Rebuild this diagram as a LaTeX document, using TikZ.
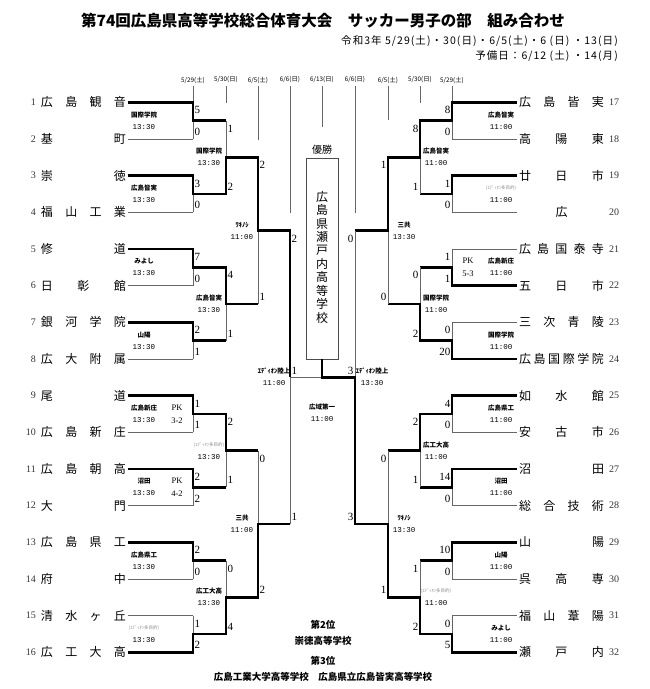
\documentclass[tikz,border=0pt]{standalone}
\usepackage{fontspec}
\setmainfont{Liberation Serif}
\setmonofont{Liberation Mono}
\newfontfamily\jp{Noto Sans CJK JP}
\newfontfamily\jpwide{Noto Sans CJK JP}[LetterSpace=10]
\usetikzlibrary{positioning}

\tikzset{
  thinln/.style={draw=black!60, line width=0.9pt},
  winln/.style={draw=black, line width=2.8pt, line join=miter},
  tname/.style={font=\jp\fontsize{12}{12}\selectfont, inner sep=0pt},
  tnum/.style={font=\fontsize{10}{10}\selectfont, text=black!80, inner sep=0pt},
  score/.style={font=\fontsize{11}{11}\selectfont, inner sep=1.5pt},
  venue/.style={font=\jp\bfseries\fontsize{6.5}{7}\selectfont, inner sep=0pt},
  gvenue/.style={font=\jp\fontsize{4.5}{5}\selectfont, text=black!45, inner sep=0pt},
  vtime/.style={font=\ttfamily\fontsize{7.5}{8}\selectfont, inner sep=0pt},
  pk/.style={font=\fontsize{8.5}{9}\selectfont, inner sep=0pt},
  datehd/.style={font=\jp\fontsize{6.3}{7}\selectfont, inner sep=0pt},
  subhd/.style={font=\jpwide\fontsize{10.5}{11}\selectfont, inner sep=0pt, anchor=east},
  bottomtxt/.style={font=\jp\bfseries\fontsize{9.5}{10}\selectfont, inner sep=0pt},
}

% one match: name, bracket x, next x, top y, bottom y, winner (1/2), scores, side (-1 left, 1 right)
\newcommand{\bout}[9]{%
  \pgfmathsetmacro{\bymid}{(#4+#5)/2}%
  \pgfmathsetmacro{\bxin}{#2+8*#9}%
  \ifnum#6=1 \def\byw{#4}\else\def\byw{#5}\fi
  \ifnum#9<0 \def\bside{west}\else\def\bside{east}\fi
  \draw[thinln] (#2,#4) -- (#2,#5);
  \draw[winln] (\bxin,\byw) -- (#2,\byw) -- (#2,\bymid) -- (#3,\bymid);
  \node[score,anchor=\bside] (#1a) at (#2,#4+8) {#7};
  \node[score,anchor=\bside] (#1b) at (#2,#5-7) {#8};
}

% venue and kick-off under a match
\newcommand{\venue}[6][venue]{%
  \node[#1] (#2v) at (#3,#4-6) {#5};
  \node[vtime] (#2t) at (#3,#4+6) {#6};
}

\begin{document}
\begin{tikzpicture}[x=1pt,y=-1pt]
\useasboundingbox (0,0) rectangle (650,689);

% -----------------------------
% Title
% -----------------------------
\node[font=\jp\bfseries\fontsize{15.5}{16}\selectfont] (title) at (323,21)
  {第74回広島県高等学校総合体育大会　サッカー男子の部　組み合わせ};
\node[subhd] (days) at (618,41) {令和3年 5/29(土)・30(日)・6/5(土)・6 (日) ・13(日)};
\node[subhd] (spare) at (618,56) {予備日：6/12 (土) ・14(月)};

% -----------------------------
% Match days
% -----------------------------
\foreach \x/\d/\e [count=\k] in {193/{5/29(土)}/102.3, 226/{5/30(日)}/103, 258/{6/5(土)}/140,
    290/{6/6(日)}/213, 322/{6/13(日)}/127, 355/{6/6(日)}/213, 388/{6/5(土)}/120,
    420/{5/30(日)}/103, 452/{5/29(土)}/102.3} {
  \node[datehd] (day\k) at (\x,80) {\d};
  \draw[thinln] (day\k.south) ++(0,3) -- (\x,\e);
}

% -----------------------------
% Teams
% -----------------------------
\foreach \n/\nm/\st in {1/{広 島 観 音}/winln, 2/{基 町}/thinln, 3/{崇 徳}/winln,
    4/{福 山 工 業}/thinln, 5/{修 道}/winln, 6/{日 彰 館}/thinln, 7/{銀 河 学 院}/winln,
    8/{広 大 附 属}/thinln, 9/{尾 道}/winln, 10/{広 島 新 庄}/thinln, 11/{広 島 朝 高}/winln,
    12/{大 門}/thinln, 13/{広 島 県 工}/winln, 14/{府 中}/thinln, 15/{清 水 ヶ 丘}/thinln,
    16/{広 工 大 高}/winln} {
  \pgfmathsetmacro{\ty}{102.3+36.67*(\n-1)}
  \node[tnum, anchor=east] (numL\n) at (36,\ty) {\n};
  \node[tname] (teamL\n) at (83.5,\ty) {\makebox[85pt][s]{\nm}};
  \draw[\st] ([xshift=2pt]teamL\n.east) -- (193,\ty);
}
\foreach \n/\nm/\st in {17/{広 島 皆 実}/winln, 18/{高 陽 東}/thinln, 19/{廿 日 市}/winln,
    20/{\hfill 広\hfill}/thinln, 21/{広 島 国 泰 寺}/thinln, 22/{五 日 市}/winln,
    23/{三 次 青 陵}/thinln, 24/{広 島 国 際 学 院}/winln, 25/{如 水 館}/winln,
    26/{安 古 市}/thinln, 27/{沼 田}/winln, 28/{総 合 技 術}/thinln, 29/{山 陽}/winln,
    30/{呉 高 専}/thinln, 31/{福 山 葦 陽}/thinln, 32/{瀬 戸 内}/winln} {
  \pgfmathsetmacro{\ty}{102.3+36.67*(\n-17)}
  \node[tnum, anchor=west] (numR\n) at (609,\ty) {\n};
  \node[tname] (teamR\n) at (561.5,\ty) {\makebox[85pt][s]{\nm}};
  \draw[\st] ([xshift=-2pt]teamR\n.west) -- (452,\ty);
}

% -----------------------------
% Left half
% -----------------------------
\bout{L1}{193}{226}{102.3}{138.97}{1}{5}{0}{-1}
\bout{L2}{193}{226}{175.64}{212.31}{1}{3}{0}{-1}
\bout{L3}{193}{226}{248.98}{285.65}{1}{7}{0}{-1}
\bout{L4}{193}{226}{322.32}{358.99}{1}{2}{1}{-1}
\bout{L5}{193}{226}{395.66}{432.33}{1}{1}{1}{-1}
\bout{L6}{193}{226}{469.0}{505.67}{1}{2}{2}{-1}
\bout{L7}{193}{226}{542.34}{579.01}{1}{2}{0}{-1}
\bout{L8}{193}{226}{615.68}{652.35}{2}{1}{2}{-1}
\bout{L9}{226}{258}{120.64}{193.98}{2}{1}{2}{-1}
\bout{L10}{226}{258}{267.32}{340.66}{1}{4}{1}{-1}
\bout{L11}{226}{258}{414.0}{487.34}{1}{2}{1}{-1}
\bout{L12}{226}{258}{560.68}{634.02}{2}{0}{4}{-1}
\bout{L13}{258}{290}{157.31}{303.99}{1}{2}{1}{-1}
\bout{L14}{258}{290}{450.67}{597.35}{2}{0}{2}{-1}
\bout{L15}{290}{290}{230.65}{524.01}{1}{2}{1}{-1}

\venue{L1}{144}{120.64}{国際学院}{13:30}
\venue{L2}{144}{193.98}{広島皆実}{13:30}
\venue{L3}{144}{267.32}{みよし}{13:30}
\venue{L4}{144}{340.66}{山陽}{13:30}
\venue{L5}{144}{414.0}{広島新庄}{13:30}
\venue{L6}{144}{487.34}{沼田}{13:30}
\venue{L7}{144}{560.68}{広島県工}{13:30}
\venue[gvenue]{L8}{144}{634.02}{(ｴﾃﾞｨｵﾝ多目的)}{13:30}
\venue{L9}{209}{157.31}{国際学院}{13:30}
\venue{L10}{209}{303.99}{広島皆実}{13:30}
\venue[gvenue]{L11}{209}{450.67}{(ｴﾃﾞｨｵﾝ多目的)}{13:30}
\venue{L12}{209}{597.35}{広工大高}{13:30}
\venue{L13}{242}{230.65}{ﾜｷﾉｼ}{11:00}
\venue{L14}{242}{524.01}{三共}{11:00}
\venue{L15}{274}{377.33}{ｴﾃﾞｨｵﾝ陸上}{11:00}

% penalty shoot-outs
\node[pk] (L5pk) at (177,407.5) {PK};
\node[pk] (L5pks) at (177,420.5) {3-2};
\node[pk] (L6pk) at (177,480.8) {PK};
\node[pk] (L6pks) at (177,493.8) {4-2};

% -----------------------------
% Right half
% -----------------------------
\bout{R1}{452}{420}{102.3}{138.97}{1}{8}{0}{1}
\bout{R2}{452}{420}{175.64}{212.31}{1}{1}{0}{1}
\bout{R3}{452}{420}{248.98}{285.65}{2}{1}{1}{1}
\bout{R4}{452}{420}{322.32}{358.99}{2}{0}{20}{1}
\bout{R5}{452}{420}{395.66}{432.33}{1}{4}{0}{1}
\bout{R6}{452}{420}{469.0}{505.67}{1}{14}{0}{1}
\bout{R7}{452}{420}{542.34}{579.01}{1}{10}{0}{1}
\bout{R8}{452}{420}{615.68}{652.35}{2}{0}{5}{1}
\bout{R9}{420}{388}{120.64}{193.98}{1}{8}{1}{1}
\bout{R10}{420}{388}{267.32}{340.66}{2}{0}{2}{1}
\bout{R11}{420}{388}{414.0}{487.34}{1}{2}{1}{1}
\bout{R12}{420}{388}{560.68}{634.02}{2}{1}{2}{1}
\bout{R13}{388}{355}{157.31}{303.99}{1}{1}{0}{1}
\bout{R14}{388}{355}{450.67}{597.35}{2}{0}{1}{1}
\bout{R15}{355}{355}{230.65}{524.01}{2}{0}{3}{1}

\venue{R1}{501}{120.64}{広島皆実}{11:00}
\venue[gvenue]{R2}{501}{193.98}{(ｴﾃﾞｨｵﾝ多目的)}{11:00}
\venue{R3}{501}{267.32}{広島新庄}{11:00}
\venue{R4}{501}{340.66}{国際学院}{11:00}
\venue{R5}{501}{414.0}{広島県工}{11:00}
\venue{R6}{501}{487.34}{沼田}{11:00}
\venue{R7}{501}{560.68}{山陽}{11:00}
\venue{R8}{501}{634.02}{みよし}{11:00}
\venue{R9}{436}{157.31}{広島皆実}{11:00}
\venue{R10}{436}{303.99}{国際学院}{11:00}
\venue{R11}{436}{450.67}{広工大高}{11:00}
\venue[gvenue]{R12}{436}{597.35}{(ｴﾃﾞｨｵﾝ多目的)}{11:00}
\venue{R13}{404}{230.65}{三共}{13:30}
\venue{R14}{404}{524.01}{ﾜｷﾉｼ}{13:30}
\venue{R15}{372}{377.33}{ｴﾃﾞｨｵﾝ陸上}{13:30}

\node[pk] (R3pk) at (468,260.8) {PK};
\node[pk] (R3pks) at (468,273.8) {5-3};

% -----------------------------
% Final and champion
% -----------------------------
\node[font=\jp\fontsize{10}{10}\selectfont, inner sep=0pt] (champ) at (322,150) {優勝};
\node[draw=black!70, line width=0.8pt, minimum width=32pt, minimum height=201pt,
  inner sep=0pt] (cbox) at (322,258.5) {};
\foreach \c [count=\k] in {広,島,県,瀬,戸,内,高,等,学,校}
  \node[tname] (cw\k) at (322,{197+13.4*(\k-1)}) {\c};

\draw[thinln] (290,377.33) -- (322,377.33);
\draw[winln] (355,385) -- (355,377.33) -- (322,377.33) -- (cbox.south);
\node[score, anchor=west] (Fa) at (290,371) {1};
\node[score, anchor=east] (Fb) at (355,371) {3};
\venue{F}{322}{413}{広域第一}{11:00}

% places
\node[bottomtxt] (second) at (323,625) {第2位};
\node[bottomtxt, below=6pt of second] (secondsch) {崇徳高等学校};
\node[bottomtxt, below=11pt of secondsch] (third) {第3位};
\node[bottomtxt, below=6pt of third] (thirdsch) {広島工業大学高等学校　広島県立広島皆実高等学校};

\end{tikzpicture}
\end{document}
